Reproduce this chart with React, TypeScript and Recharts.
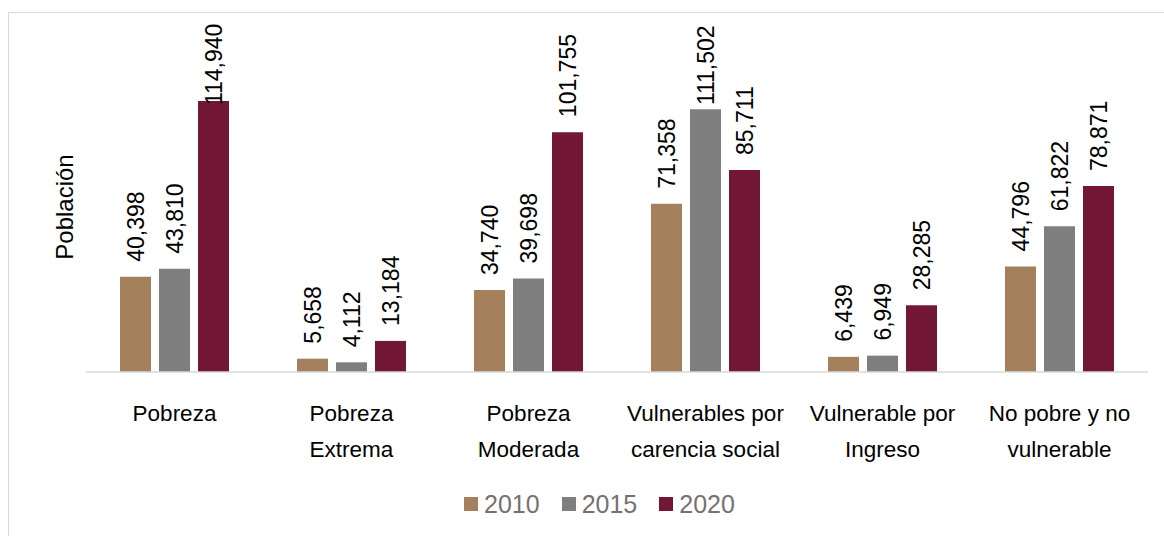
import { Bar, BarChart, LabelList, Legend, XAxis, YAxis } from "recharts"

const categories = [
  "Pobreza",
  "Pobreza\nExtrema",
  "Pobreza\nModerada",
  "Vulnerables por\ncarencia social",
  "Vulnerable por\nIngreso",
  "No pobre y no\nvulnerable",
]
const values2010 = [40398, 5658, 34740, 71358, 6439, 44796]
const values2015 = [43810, 4112, 39698, 111502, 6949, 61822]
const values2020 = [114940, 13184, 101755, 85711, 28285, 78871]

const series = [
  { key: "y2010", name: "2010", color: "#A5805C" },
  { key: "y2015", name: "2015", color: "#7F7F7F" },
  { key: "y2020", name: "2020", color: "#731737" },
]

const data = categories.map((category, i) => ({
  category,
  y2010: values2010[i],
  y2015: values2015[i],
  y2020: values2020[i],
}))

const font = "'Liberation Sans', Arial, sans-serif"
const labelSize = 23

function CategoryTick({ x, y, payload }: any) {
  const lines = String(payload.value).split("\n")
  return (
    <text x={x} y={y} textAnchor="middle" fontSize={22.5} fontFamily={font} fill="#000">
      {lines.map((line, i) => (
        <tspan key={i} x={x} dy={i === 0 ? 49 : 36}>
          {line}
        </tspan>
      ))}
    </text>
  )
}

// labels sit above the bar, but get pushed down so they stay inside the chart frame
function ValueLabel({ x, y, width, value }: any) {
  const text = Number(value).toLocaleString("en-US")
  const commas = text.split(",").length - 1
  const len = ((text.length - commas) * 0.556 + commas * 0.278) * labelSize
  const cx = x + width / 2 + 9
  let start = y - 15
  if (start - len < 22) start = 22 + len
  return (
    <text
      x={cx}
      y={start}
      transform={`rotate(-90, ${cx}, ${start})`}
      textAnchor="start"
      fontSize={labelSize}
      fontFamily={font}
      fill="#000"
    >
      {text}
    </text>
  )
}

function YTitle({ viewBox }: any) {
  const x = viewBox.x + 43
  const y = viewBox.y + viewBox.height / 2
  return (
    <text
      x={x}
      y={y}
      transform={`rotate(-90, ${x}, ${y})`}
      textAnchor="middle"
      fontSize={24}
      fontFamily={font}
      fill="#000"
    >
      Población
    </text>
  )
}

function LegendContent() {
  return (
    <div style={{ display: "flex", alignItems: "center", fontFamily: font }}>
      {series.map((s) => (
        <div key={s.key} style={{ display: "flex", alignItems: "center", marginRight: 22 }}>
          <span style={{ width: 14, height: 14, background: s.color, display: "inline-block", marginRight: 6 }} />
          <span style={{ fontSize: 25, color: "#767171", lineHeight: "28px" }}>{s.name}</span>
        </div>
      ))}
    </div>
  )
}

export default function App() {
  return (
    <div style={{ position: "absolute", left: 0, top: 0, width: 1164, height: 536, background: "#fff" }}>
      <div
        style={{
          position: "absolute",
          left: 8,
          top: 12,
          width: 1200,
          height: 600,
          borderLeft: "1.5px solid #d9d9d9",
          borderTop: "1.5px solid #d9d9d9",
        }}
      />
      <div style={{ position: "absolute", left: 0, top: 0 }}>
        <BarChart
          width={1164}
          height={536}
          data={data}
          margin={{ top: 42, right: 16, left: 30, bottom: 104 }}
          barSize={31}
          barGap={8}
        >
          <XAxis
            dataKey="category"
            height={60}
            interval={0}
            tickLine={false}
            tickSize={0}
            tickMargin={0}
            axisLine={{ stroke: "#d9d9d9", strokeWidth: 1.5 }}
            tick={<CategoryTick />}
          />
          <YAxis
            width={56}
            domain={[0, 140000]}
            tick={false}
            tickLine={false}
            axisLine={false}
            label={<YTitle />}
          />
          <Legend
            layout="horizontal"
            verticalAlign="middle"
            align="center"
            wrapperStyle={{ top: 490, left: 464, width: "auto" }}
            content={<LegendContent />}
          />
          {series.map((s) => (
            <Bar key={s.key} dataKey={s.key} name={s.name} fill={s.color} isAnimationActive={false}>
              <LabelList dataKey={s.key} content={<ValueLabel />} />
            </Bar>
          ))}
        </BarChart>
      </div>
    </div>
  )
}
